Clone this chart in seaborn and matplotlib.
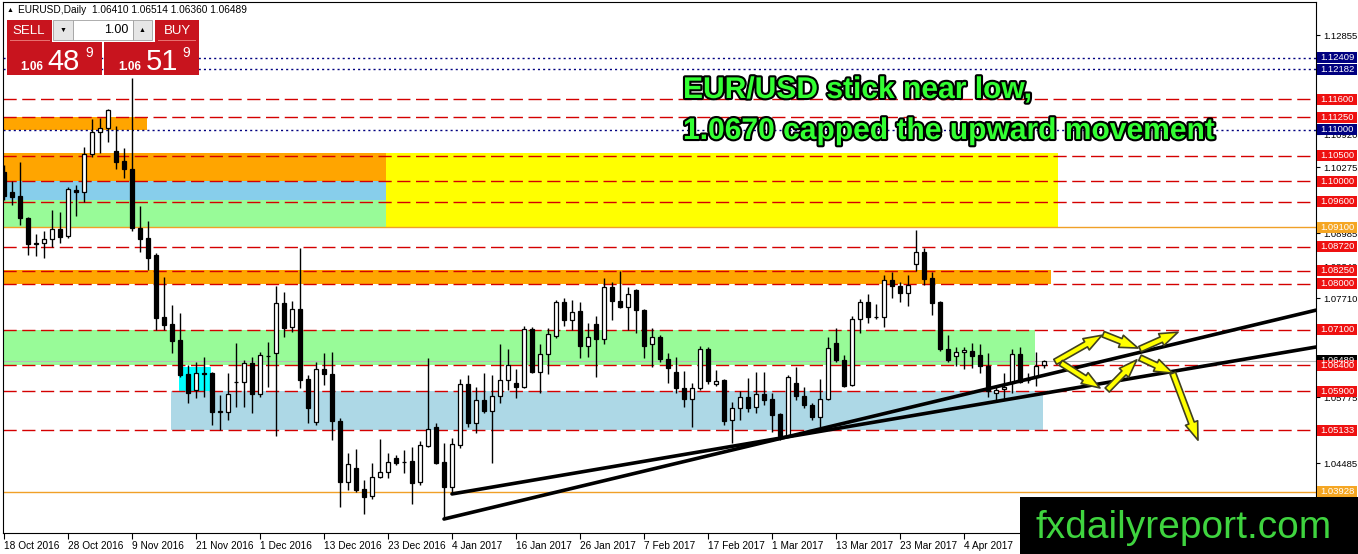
import matplotlib
matplotlib.use("Agg")
import matplotlib.pyplot as plt
import matplotlib.patheffects as pe
from matplotlib.patches import Rectangle
from matplotlib.transforms import blended_transform_factory
import numpy as np
import pandas as pd
import seaborn as sns

# ---- daily EURUSD candles, 18 Oct 2016 .. 18 Apr 2017 ----
opens = [1.1018, 1.0979, 1.0971, 1.0928, 1.0879, 1.0879, 1.0887, 1.0906, 1.0893, 1.0983,
         1.0979, 1.1053, 1.1096, 1.1104, 1.1059, 1.1039, 1.1024, 1.0908, 1.0889, 1.0856,
         1.0734, 1.0721, 1.0690, 1.0623, 1.0592, 1.0625, 1.0625, 1.0549, 1.0549, 1.0607,
         1.0607, 1.0645, 1.0584, 1.0658, 1.0664, 1.0762, 1.0715, 1.0750, 1.0613, 1.0529,
         1.0633, 1.0623, 1.0531, 1.0412, 1.0440, 1.0399, 1.0385, 1.0422, 1.0432, 1.0459,
         1.0451, 1.0453, 1.0412, 1.0482, 1.0520, 1.0451, 1.0402, 1.0484, 1.0604, 1.0527,
         1.0572, 1.0551, 1.0580, 1.0611, 1.0606, 1.0598, 1.0711, 1.0627, 1.0662, 1.0697,
         1.0764, 1.0729, 1.0746, 1.0678, 1.0721, 1.0692, 1.0793, 1.0766, 1.0754, 1.0787,
         1.0748, 1.0682, 1.0695, 1.0653, 1.0627, 1.0596, 1.0574, 1.0596, 1.0672, 1.0604,
         1.0611, 1.0533, 1.0557, 1.0578, 1.0559, 1.0584, 1.0574, 1.0545, 1.0502, 1.0606,
         1.0580, 1.0563, 1.0539, 1.0574, 1.0684, 1.0651, 1.0602, 1.0731, 1.0764, 1.0734,
         1.0734, 1.0807, 1.0795, 1.0781, 1.0838, 1.0862, 1.0811, 1.0764, 1.0672, 1.0658,
         1.0666, 1.0668, 1.0660, 1.0639, 1.0586, 1.0594, 1.0606, 1.0662, 1.0611, 1.0617,
         1.0641]
highs = [1.1032, 1.1000, 1.1037, 1.0930, 1.0897, 1.0903, 1.0944, 1.0940, 1.0989, 1.0993,
         1.1067, 1.1121, 1.1123, 1.1141, 1.1108, 1.1065, 1.1201, 1.0951, 1.0922, 1.0860,
         1.0813, 1.0758, 1.0742, 1.0641, 1.0647, 1.0656, 1.0627, 1.0582, 1.0625, 1.0684,
         1.0651, 1.0656, 1.0666, 1.0686, 1.0795, 1.0783, 1.0766, 1.0869, 1.0621, 1.0647,
         1.0664, 1.0666, 1.0537, 1.0469, 1.0477, 1.0416, 1.0449, 1.0496, 1.0469, 1.0465,
         1.0475, 1.0481, 1.0492, 1.0655, 1.0527, 1.0488, 1.0498, 1.0613, 1.0621, 1.0598,
         1.0625, 1.0621, 1.0682, 1.0672, 1.0633, 1.0717, 1.0715, 1.0682, 1.0713, 1.0768,
         1.0772, 1.0768, 1.0764, 1.0723, 1.0736, 1.0811, 1.0803, 1.0824, 1.0793, 1.0789,
         1.0750, 1.0713, 1.0699, 1.0664, 1.0656, 1.0629, 1.0606, 1.0678, 1.0676, 1.0631,
         1.0613, 1.0568, 1.0590, 1.0615, 1.0627, 1.0627, 1.0586, 1.0547, 1.0621, 1.0637,
         1.0598, 1.0567, 1.0613, 1.0695, 1.0713, 1.0660, 1.0736, 1.0770, 1.0780, 1.0760,
         1.0817, 1.0822, 1.0803, 1.0817, 1.0905, 1.0869, 1.0822, 1.0765, 1.0699, 1.0676,
         1.0676, 1.0684, 1.0682, 1.0664, 1.0602, 1.0625, 1.0672, 1.0676, 1.0625, 1.0666,
         1.06514]
lows = [1.0963, 1.0953, 1.0914, 1.0856, 1.0854, 1.0850, 1.0871, 1.0879, 1.0889, 1.0932,
        1.0959, 1.1047, 1.1055, 1.1076, 1.1024, 1.1006, 1.0903, 1.0862, 1.0826, 1.0709,
        1.0709, 1.0664, 1.0617, 1.0566, 1.0576, 1.0578, 1.0524, 1.0514, 1.0533, 1.0559,
        1.0559, 1.0547, 1.0578, 1.0598, 1.0502, 1.0695, 1.0705, 1.0596, 1.0527, 1.0524,
        1.0602, 1.0494, 1.0363, 1.0397, 1.0393, 1.0350, 1.0379, 1.0421, 1.0421, 1.0445,
        1.0430, 1.0369, 1.0406, 1.0480, 1.0447, 1.0340, 1.0389, 1.0479, 1.0520, 1.0508,
        1.0547, 1.0449, 1.0566, 1.0592, 1.0576, 1.0596, 1.0625, 1.0586, 1.0623, 1.0693,
        1.0717, 1.0709, 1.0654, 1.0656, 1.0617, 1.0682, 1.0729, 1.0753, 1.0709, 1.0703,
        1.0654, 1.0637, 1.0647, 1.0606, 1.0586, 1.0559, 1.0520, 1.0592, 1.0604, 1.0600,
        1.0524, 1.0488, 1.0533, 1.0549, 1.0547, 1.0563, 1.0510, 1.0494, 1.0500, 1.0572,
        1.0557, 1.0533, 1.0520, 1.0572, 1.0647, 1.0598, 1.0600, 1.0703, 1.0723, 1.0731,
        1.0715, 1.0772, 1.0764, 1.0756, 1.0824, 1.0797, 1.0738, 1.0668, 1.0647, 1.0639,
        1.0633, 1.0635, 1.0625, 1.0578, 1.0568, 1.0574, 1.0586, 1.0606, 1.0606, 1.0600,
        1.06360]
closes = [1.0971, 1.0969, 1.0928, 1.0877, 1.0877, 1.0887, 1.0906, 1.0891, 1.0985, 1.0979,
          1.1053, 1.1096, 1.1104, 1.1139, 1.1037, 1.1024, 1.0908, 1.0887, 1.0850, 1.0732,
          1.0719, 1.0688, 1.0621, 1.0586, 1.0625, 1.0623, 1.0549, 1.0550, 1.0584, 1.0608,
          1.0645, 1.0584, 1.0660, 1.0659, 1.0762, 1.0713, 1.0750, 1.0611, 1.0557, 1.0633,
          1.0623, 1.0531, 1.0412, 1.0447, 1.0397, 1.0383, 1.0422, 1.0432, 1.0451, 1.0449,
          1.0452, 1.0410, 1.0484, 1.0516, 1.0449, 1.0402, 1.0486, 1.0604, 1.0527, 1.0572,
          1.0551, 1.0580, 1.0611, 1.0641, 1.0598, 1.0711, 1.0627, 1.0662, 1.0701, 1.0764,
          1.0729, 1.0744, 1.0678, 1.0695, 1.0692, 1.0793, 1.0766, 1.0754, 1.0780, 1.0748,
          1.0678, 1.0695, 1.0653, 1.0635, 1.0596, 1.0574, 1.0596, 1.0672, 1.0609, 1.0609,
          1.0531, 1.0557, 1.0578, 1.0557, 1.0584, 1.0572, 1.0543, 1.0502, 1.0617, 1.0580,
          1.0563, 1.0539, 1.0574, 1.0674, 1.0651, 1.0600, 1.0731, 1.0764, 1.0734, 1.0735,
          1.0807, 1.0795, 1.0781, 1.0797, 1.0862, 1.0809, 1.0762, 1.0672, 1.0651, 1.0666,
          1.0670, 1.0658, 1.0639, 1.0590, 1.0592, 1.0598, 1.0662, 1.0607, 1.0612, 1.0639,
          1.06489]

date_ticks = [0, 8, 16, 24, 32, 40, 48, 56, 64, 72, 80, 88, 96, 104, 112, 120]
date_labels = ["18 Oct 2016", "28 Oct 2016", "9 Nov 2016", "21 Nov 2016", "1 Dec 2016",
               "13 Dec 2016", "23 Dec 2016", "4 Jan 2017", "16 Jan 2017", "26 Jan 2017",
               "7 Feb 2017", "17 Feb 2017", "1 Mar 2017", "13 Mar 2017", "23 Mar 2017",
               "4 Apr 2017"]

# plain scale labels (the rest are hidden behind the level tags)
price_ticks = [1.12855, 1.10920, 1.10275, 1.08985, 1.08340, 1.07710, 1.07065, 1.05775,
               1.04485]

navy_levels = [1.12409, 1.12182, 1.11000]
red_levels = [1.11600, 1.11250, 1.10500, 1.10000, 1.09600, 1.08720, 1.08250, 1.08000,
              1.07100, 1.06400, 1.05900, 1.05133]
orange_levels = [1.09100, 1.03928]
current_price = 1.06489

# supply / demand zones: bar start, bar end, low, high, colour
zone_start = [-1, -1, -1, -1, 47.75, -1, -1, 21.9, 20.9]
zone_end = [17.9, 47.75, 47.75, 47.75, 131.75, 130.9, 128.9, 25.9, 129.9]
zone_low = [1.1100, 1.1000, 1.0963, 1.0910, 1.0910, 1.0800, 1.0640, 1.0590, 1.0513]
zone_high = [1.1125, 1.1056, 1.1000, 1.0963, 1.1056, 1.0826, 1.0710, 1.0637, 1.0590]
zone_color = ["#ffa500", "#ffa500", "#87ceeb", "#98fb98", "#ffff00", "#ffa500",
              "#98fb98", "#00ffff", "#add8e6"]

# trend lines (bar, price)
trend_bar = [55, 164, 56, 164]
trend_price = [1.0340, 1.0748, 1.0389, 1.0676]
trend_id = ["a", "a", "b", "b"]

# scenario arrows: from (bar, price) to (bar, price)
arrow_from = [(131.4, 1.0647), (137.4, 1.0701), (142.0, 1.0672), (132.1, 1.0645),
              (137.9, 1.0592), (142.0, 1.0655), (146.1, 1.0625)]
arrow_to = [(137.25, 1.0699), (141.75, 1.0674), (146.75, 1.0705), (137.0, 1.0596),
            (141.6, 1.0651), (146.1, 1.0625), (149.25, 1.0494)]

sns.set_theme(style="white")
plt.rcParams['font.family'] = ['Liberation Sans', 'DejaVu Sans']
plt.rcParams['lines.scale_dashes'] = False

W, H = 1358, 554
fig = plt.figure(figsize=(W / 100, H / 100), dpi=100)
fig.patch.set_facecolor("white")
ax = fig.add_axes([3 / W, 21 / H, 1313 / W, 531 / H])
ax.set_facecolor("white")

# zones
for x0, x1, lo, hi, c in zip(zone_start, zone_end, zone_low, zone_high, zone_color):
    ax.add_patch(Rectangle((x0, lo), x1 - x0, hi - lo, facecolor=c, lw=0, zorder=1))

# horizontal levels
for p in red_levels:
    ax.axhline(p, color="#d40000", lw=1, ls=(0, (9.5, 4)), zorder=2)
for p in navy_levels:
    ax.axhline(p, color="#000080", lw=1, ls=(0, (1.5, 2.2)), zorder=2)
for p in orange_levels:
    ax.axhline(p, color="#f0a028", lw=1, zorder=2)
ax.axhline(current_price, color="#b8b8b8", lw=0.8, zorder=2)

# candles
idx = np.arange(len(opens))
o = np.array(opens)
c = np.array(closes)
ax.vlines(idx, lows, highs, color="black", lw=1, zorder=3)
body_lo = np.minimum(o, c)
body_h = np.maximum(np.abs(c - o), 0.00012)
fill = ["white" if cc > oo else "black" for oo, cc in zip(o, c)]
ax.bar(idx, body_h, bottom=body_lo, width=0.62, color=fill, edgecolor="black",
       linewidth=0.9, zorder=4)

# trend lines
trend = pd.DataFrame({"bar": trend_bar, "price": trend_price, "line": trend_id})
sns.lineplot(data=trend, x="bar", y="price", hue="line", palette=["black", "black"],
             estimator=None, sort=False, legend=False, linewidth=2.6, ax=ax, zorder=5)

# arrows
for (xa, ya), (xb, yb) in zip(arrow_from, arrow_to):
    ax.annotate("", xy=(xb, yb), xytext=(xa, ya),
                arrowprops=dict(arrowstyle="simple,head_length=1.2,head_width=0.85,tail_width=0.38",
                                fc="#ffff00", ec="#404020", lw=1.2, mutation_scale=11,
                                shrinkA=0, shrinkB=0),
                zorder=6)

ax.set_xlim(-0.125, 164.0)
ax.set_ylim(1.03127, 1.13500)
ax.set_xlabel("")
ax.set_ylabel("")

# axes / ticks
ax.set_xticks(date_ticks)
ax.set_xticklabels(date_labels)
for lbl in ax.get_xticklabels():
    lbl.set_ha("left")
ax.tick_params(axis="x", bottom=True, length=4, width=0.8, direction="out",
               labelsize=7.3, pad=2, colors="black")
ax.yaxis.tick_right()
ax.set_yticks(price_ticks)
ax.set_yticklabels([f"{v:.5f}" for v in price_ticks])
ax.tick_params(axis="y", right=True, left=False, labelright=True, labelleft=False,
               length=3, width=0.8, direction="out", labelsize=6.8, pad=2, colors="black")
for s in ax.spines.values():
    s.set_color("black")
    s.set_linewidth(0.8)

# price tags on the right
trans = blended_transform_factory(fig.transFigure, ax.transData)
box_h = 11 * (1.13500 - 1.03127) / 531
labels = [(current_price, "black")] + [(p, "#000080") for p in navy_levels] + \
         [(p, "#ee1111") for p in red_levels] + [(p, "#f5a623") for p in orange_levels]
for p, col in labels:
    ax.add_patch(Rectangle((1317 / W, p - box_h / 2), 40 / W, box_h, transform=trans,
                           facecolor=col, lw=0, clip_on=False, zorder=7))
    ax.text(1337 / W, p, f"{p:.5f}", transform=trans, ha="center", va="center",
            color="white", fontsize=6.8, zorder=8, clip_on=False)
ax.set_xlim(-0.125, 164.0)
ax.set_ylim(1.03127, 1.13500)


def fx(x):
    return x / W


def fy(y):
    return 1 - y / H


def box(x0, y0, x1, y1, fc, ec="none", lw=0):
    fig.add_artist(Rectangle((fx(x0), fy(y1)), (x1 - x0) / W, (y1 - y0) / H,
                             transform=fig.transFigure, facecolor=fc, edgecolor=ec, lw=lw))


# header
fig.text(fx(7), fy(10), "▲", fontsize=5, va="center", color="black")
fig.text(fx(18), fy(10), "EURUSD,Daily  1.06410 1.06514 1.06360 1.06489",
         fontsize=7.3, va="center", color="black")

# one-click trading panel
red = "#c8141e"
box(7, 20, 52, 42, red)
box(7, 42, 102, 75, red)
box(104, 42, 199, 75, red)
box(155, 20, 199, 42, red)
box(53, 20, 73, 40, "#e6e6e6", "#a0a0a0", 0.6)
box(73, 20, 133, 40, "white", "#a0a0a0", 0.6)
box(133, 20, 152, 40, "#e6e6e6", "#a0a0a0", 0.6)
box(10, 40.5, 50, 41.3, "#e87070")
box(158, 40.5, 196, 41.3, "#e87070")
fig.text(fx(29), fy(31), "SELL", fontsize=9.5, color="white", ha="center", va="center")
fig.text(fx(177), fy(31), "BUY", fontsize=9.5, color="white", ha="center", va="center")
fig.text(fx(63), fy(30), "▼", fontsize=5, color="black", ha="center", va="center")
fig.text(fx(142), fy(30), "▲", fontsize=5, color="black", ha="center", va="center")
fig.text(fx(128), fy(30), "1.00", fontsize=9, color="black", ha="right", va="center")
for x_small, x_big, x_sup, big in [(20, 47, 85, "48"), (118, 146, 182, "51")]:
    fig.text(fx(x_small), fy(70), "1.06", fontsize=8.5, weight="bold", color="white",
             va="baseline")
    fig.text(fx(x_big), fy(70), big, fontsize=21, color="white", va="baseline")
    fig.text(fx(x_sup), fy(57), "9", fontsize=10, color="white", va="baseline")

# headline
stroke = [pe.withStroke(linewidth=3, foreground="black")]
fig.text(fx(683), fy(98), "EUR/USD stick near low,", fontsize=21.6, weight="bold",
         color="#33ff33", va="baseline", path_effects=stroke)
fig.text(fx(683), fy(139), "1.0670 capped the upward movement", fontsize=21.6,
         weight="bold", color="#33ff33", va="baseline", path_effects=stroke)

# logo
box(1020, 497, 1358, 554, "black")
fig.text(fx(1035), fy(538), "fxdailyreport.com", fontsize=28, color="#3fd43f",
         va="baseline")

fig.savefig("out.png", dpi=100)
